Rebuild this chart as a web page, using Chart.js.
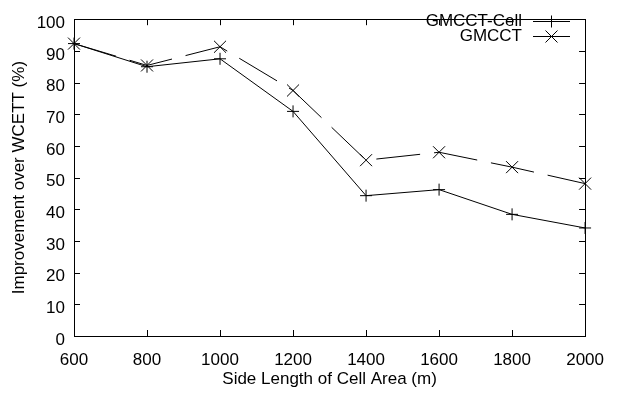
<!DOCTYPE html>
<html lang="en">
<head>
<meta charset="UTF-8">
<title>Improvement over WCETT</title>
<script src="https://cdn.jsdelivr.net/npm/chart.js@4"></script>
<style>
  html, body { margin: 0; padding: 0; background: #fff; }
  #wrap { width: 618px; height: 396px; }
</style>
</head>
<body>
<div id="wrap"><canvas id="c" width="618" height="396"></canvas></div>
<script>
const sideLengths = [600, 800, 1000, 1200, 1400, 1600, 1800, 2000];
const gmcctCell = [92.3, 85.0, 87.5, 70.9, 44.3, 46.2, 38.4, 34.1];
const gmcct = [92.3, 85.4, 91.3, 77.5, 55.5, 58.0, 53.3, 48.1];
const seriesNames = ['GMCCT-Cell', 'GMCCT'];

const FONT = { family: "'Liberation Sans', Arial, sans-serif", size: 17 };
const TICK = 6;

// gnuplot-style frame with inward ticks on all four sides
const frame = {
  id: 'frame',
  afterDraw(chart) {
    const { ctx, chartArea: a, scales } = chart;
    ctx.save();
    ctx.strokeStyle = '#000';
    ctx.lineWidth = 1;
    ctx.beginPath();
    scales.x.ticks.forEach(t => {
      const px = Math.round(scales.x.getPixelForValue(t.value)) + 0.5;
      ctx.moveTo(px, a.bottom); ctx.lineTo(px, a.bottom - TICK);
      ctx.moveTo(px, a.top); ctx.lineTo(px, a.top + TICK);
    });
    scales.y.ticks.forEach(t => {
      const py = Math.round(scales.y.getPixelForValue(t.value)) + 0.5;
      ctx.moveTo(a.left, py); ctx.lineTo(a.left + TICK, py);
      ctx.moveTo(a.right, py); ctx.lineTo(a.right - TICK, py);
    });
    ctx.stroke();
    ctx.strokeRect(Math.round(a.left) + 0.5, Math.round(a.top) + 0.5,
                   Math.round(a.right - a.left), Math.round(a.bottom - a.top));
    ctx.restore();
  }
};

// legend in top-right corner, text right-aligned with sample to the right
const keyBox = {
  id: 'keyBox',
  afterDraw(chart) {
    const ctx = chart.ctx;
    const textRight = 522, x0 = 533, x1 = 570;
    ctx.save();
    ctx.font = FONT.size + 'px ' + FONT.family;
    ctx.fillStyle = '#000';
    ctx.textAlign = 'right';
    ctx.textBaseline = 'middle';
    chart.data.datasets.forEach((ds, i) => {
      const y = 21 + i * 15;
      ctx.fillText(ds.label, textRight, y);
      ctx.strokeStyle = '#000';
      ctx.lineWidth = 1;
      ctx.beginPath();
      ctx.moveTo(x0, y + 0.5); ctx.lineTo(x1, y + 0.5);
      ctx.stroke();
      Chart.helpers.drawPoint(ctx, {
        pointStyle: ds.pointStyle, radius: ds.pointRadius, rotation: 0, borderWidth: 1
      }, (x0 + x1) / 2, y + 0.5);
    });
    ctx.restore();
  }
};

new Chart(document.getElementById('c'), {
  type: 'line',
  data: {
    datasets: [
      {
        label: seriesNames[0],
        data: sideLengths.map((x, i) => ({ x, y: gmcctCell[i] })),
        borderColor: '#000',
        borderWidth: 1,
        pointStyle: 'cross',
        pointRadius: 6,
        pointBorderColor: '#000',
        pointBorderWidth: 1,
        tension: 0,
        clip: false
      },
      {
        label: seriesNames[1],
        data: sideLengths.map((x, i) => ({ x, y: gmcct[i] })),
        borderColor: '#000',
        borderWidth: 1,
        borderDash: [44, 14],
        pointStyle: 'crossRot',
        pointRadius: 8.5,
        pointBorderColor: '#000',
        pointBorderWidth: 1,
        tension: 0,
        clip: false
      }
    ]
  },
  options: {
    responsive: false,
    animation: false,
    layout: { padding: { top: 8, right: 31, left: 0, bottom: 0 } },
    plugins: { legend: { display: false }, tooltip: { enabled: false } },
    scales: {
      x: {
        type: 'linear',
        min: 600, max: 2000,
        grid: { display: false, drawTicks: false },
        border: { display: false },
        ticks: { stepSize: 200, color: '#000', font: FONT, padding: 14, maxRotation: 0,
                 callback: v => String(v) },
        title: { display: true, text: 'Side Length of Cell Area (m)', color: '#000', font: FONT,
                 padding: { top: 0, bottom: 6 } },
        afterFit(s) { s.height = 60; }
      },
      y: {
        min: 0, max: 100,
        grid: { display: false, drawTicks: false },
        border: { display: false },
        ticks: { stepSize: 10, color: '#000', font: FONT, padding: 9, labelOffset: 4 },
        title: { display: true, text: 'Improvement over WCETT (%)', color: '#000', font: FONT,
                 padding: { top: 9, bottom: 0 } },
        afterFit(s) { s.width = 74; }
      }
    }
  },
  plugins: [frame, keyBox]
});
</script>
</body>
</html>
